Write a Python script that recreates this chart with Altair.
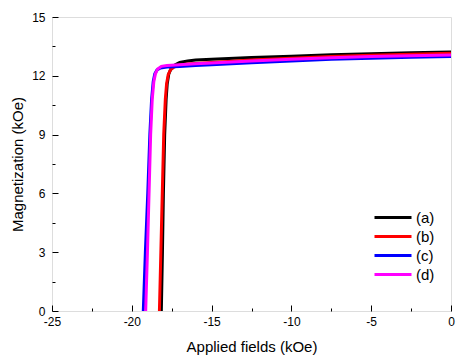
import altair as alt
import pandas as pd

series_names = ["(a)", "(b)", "(c)", "(d)"]
series_colors = ["#000000", "#ff0000", "#0000ff", "#ff00ff"]

a_H = [-18.15, -18.08, -18.02, -17.94, -17.85, -17.78, -17.68, -17.55, -17.3, -17.0, -16.5, -16.0, -15.0, -12.5, -10.0, -7.5, -5.0, -2.5, 0.0]
a_M = [0.0, 3.0, 6.0, 9.0, 10.8, 11.6, 12.1, 12.35, 12.55, 12.68, 12.76, 12.8, 12.85, 12.93, 13.0, 13.07, 13.12, 13.17, 13.22]

b_H = [-18.27, -18.18, -18.09, -18.0, -17.9, -17.82, -17.72, -17.58, -17.35, -17.0, -16.5, -16.0, -15.0, -12.5, -10.0, -7.5, -5.0, -2.5, 0.0]
b_M = [0.0, 3.0, 6.0, 9.0, 10.8, 11.6, 12.05, 12.3, 12.45, 12.55, 12.6, 12.63, 12.68, 12.8, 12.9, 12.98, 13.05, 13.1, 13.15]

c_H = [-19.28, -19.15, -19.0, -18.87, -18.76, -18.66, -18.56, -18.42, -18.2, -17.8, -17.0, -16.0, -15.0, -12.5, -10.0, -7.5, -5.0, -2.5, 0.0]
c_M = [0.0, 3.0, 6.0, 9.0, 10.8, 11.7, 12.1, 12.3, 12.4, 12.45, 12.48, 12.52, 12.56, 12.66, 12.76, 12.84, 12.9, 12.95, 12.98]

d_H = [-19.13, -19.02, -18.92, -18.82, -18.72, -18.62, -18.52, -18.38, -18.15, -17.8, -17.0, -16.0, -15.0, -12.5, -10.0, -7.5, -5.0, -2.5, 0.0]
d_M = [0.0, 3.0, 6.0, 9.0, 10.8, 11.7, 12.1, 12.35, 12.48, 12.53, 12.57, 12.61, 12.65, 12.75, 12.84, 12.92, 12.98, 13.02, 13.06]

x_major = [-25, -20, -15, -10, -5, 0]
x_minor = [-22.5, -17.5, -12.5, -7.5, -2.5]
y_major = [0, 3, 6, 9, 12, 15]
y_minor = [1.5, 4.5, 7.5, 10.5, 13.5]

rows = []
for name, H, M in zip(series_names, [a_H, b_H, c_H, d_H], [a_M, b_M, c_M, d_M]):
    for i, (h, m) in enumerate(zip(H, M)):
        rows.append({"series": name, "H": h, "M": m, "i": i})
df = pd.DataFrame(rows)

FONT = "Liberation Sans"
xscale = alt.Scale(domain=[-25, 0], nice=False, zero=False)
yscale = alt.Scale(domain=[0, 15], nice=False, zero=False)

base = alt.Chart(df)

minor = base.mark_line(opacity=0).encode(
    x=alt.X("H:Q", scale=xscale,
            axis=alt.Axis(orient="bottom", values=x_minor, labels=False, title=None,
                          domain=False, grid=False, tickSize=3, offset=-3,
                          tickColor="black", tickWidth=1)),
    y=alt.Y("M:Q", scale=yscale,
            axis=alt.Axis(orient="left", values=y_minor, labels=False, title=None,
                          domain=False, grid=False, tickSize=3, offset=-3,
                          tickColor="black", tickWidth=1)),
    detail="series:N",
    order="i:Q",
)

lines = base.mark_line(strokeWidth=3, clip=True).encode(
    x=alt.X("H:Q", scale=xscale,
            axis=alt.Axis(orient="bottom", values=x_major, labelExpr="'' + datum.value",
                          title="Applied fields (kOe)", labelFlush=False, labelOverlap=False,
                          domain=False, grid=False, tickSize=6, offset=-6,
                          tickColor="black", tickWidth=1, labelPadding=5,
                          labelFont=FONT, labelFontSize=12, labelColor="black",
                          titleFont=FONT, titleFontSize=15, titleFontWeight="normal",
                          titleColor="black", titlePadding=12)),
    y=alt.Y("M:Q", scale=yscale,
            axis=alt.Axis(orient="left", values=y_major, labelExpr="'' + datum.value",
                          title="Magnetization (kOe)", labelFlush=False, labelOverlap=False,
                          domain=False, grid=False, tickSize=6, offset=-6,
                          tickColor="black", tickWidth=1, labelPadding=7,
                          labelFont=FONT, labelFontSize=12, labelColor="black",
                          titleFont=FONT, titleFontSize=15, titleFontWeight="normal",
                          titleColor="black", titlePadding=6)),
    color=alt.Color("series:N",
                    scale=alt.Scale(domain=series_names, range=series_colors),
                    legend=alt.Legend(title=None, orient="none", legendX=321, legendY=191,
                                      symbolType="stroke", symbolSize=1369, symbolStrokeWidth=3,
                                      labelFont=FONT, labelFontSize=15, labelColor="black",
                                      labelOffset=3, rowPadding=0, padding=0,
                                      clipHeight=19)),
    order="i:Q",
)

chart = alt.layer(minor, lines).resolve_axis(x="independent", y="independent").properties(
    width=399, height=294,
    autosize=alt.AutoSizeParams(type="none"),
    padding={"left": 44, "top": 9, "right": 6, "bottom": 50},
).configure_view(stroke="black", strokeWidth=1).configure(background="white")

chart.save("out.html", embed_options={"renderer": "svg", "actions": False})
